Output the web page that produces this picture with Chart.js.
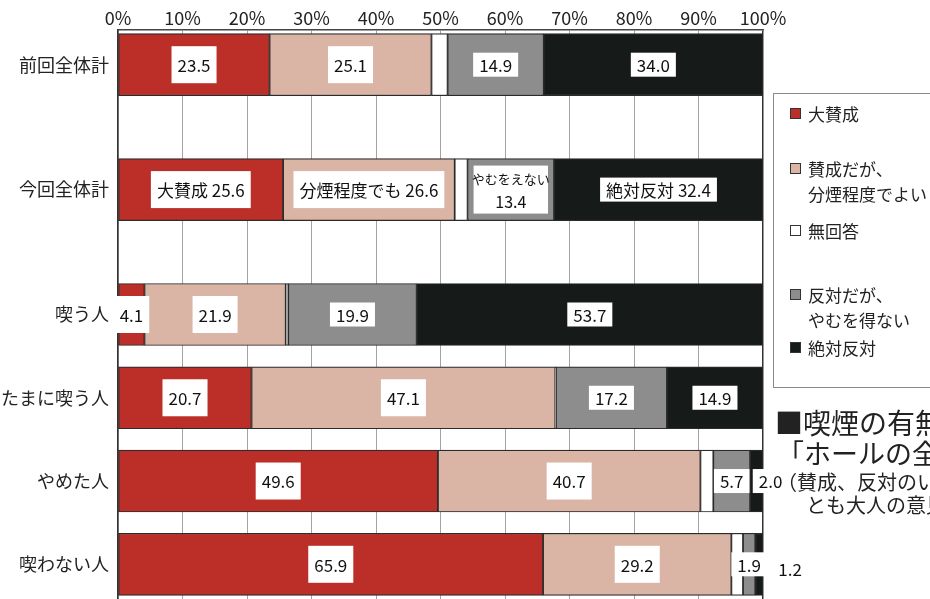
<!DOCTYPE html>
<html>
<head>
<meta charset="utf-8">
<script src="https://cdn.jsdelivr.net/npm/chart.js@4/dist/chart.umd.min.js"></script>
<style>
html,body{margin:0;padding:0;background:#fff;}
#wrap{position:relative;width:930px;height:599px;overflow:hidden;font-family:"Noto Sans CJK JP","Noto Sans",sans-serif;color:#222;background:#fff;}
#c{position:absolute;left:0;top:0;}
#legend{position:absolute;left:773px;top:93px;width:200px;height:295px;border:1px solid #8a8a8a;box-sizing:border-box;}
.sw{position:absolute;left:16px;width:11px;height:11px;border:1px solid #333;box-sizing:border-box;}
.lt{position:absolute;left:34px;font-size:17px;line-height:25px;white-space:pre;color:#222;}
.tt{position:absolute;white-space:nowrap;color:#222;}
</style>
</head>
<body>
<div id="wrap">
<canvas id="c" width="930" height="599"></canvas>
<div id="legend"></div>
<div class="tt" style="left:775px;top:404px;font-size:28px;line-height:36px;">■喫煙の有無別</div>
<div class="tt" style="left:777px;top:435px;font-size:27px;line-height:36px;">「ホールの全面禁煙」</div>
<div class="tt" style="left:777px;top:469px;font-size:20px;line-height:26px;">（賛成、反対のいずれ</div>
<div class="tt" style="left:806px;top:492px;font-size:20px;line-height:26px;">とも大人の意見）</div>
</div>
<script>
// ---- data ----
const categories = ['前回全体計','今回全体計','喫う人','たまに喫う人','やめた人','喫わない人'];
const seriesNames = ['大賛成','賛成だが、\n分煙程度でよい','無回答','反対だが、\nやむを得ない','絶対反対'];
const strongAgree   = [23.5, 25.6,  4.1, 20.7, 49.6, 65.9];
const agreeSeparate = [25.1, 26.6, 21.9, 47.1, 40.7, 29.2];
const noAnswer      = [ 2.5,  2.0,  0.4,  0.1,  2.0,  1.8];
const reluctant     = [14.9, 13.4, 19.9, 17.2,  5.7,  1.9];
const strongOppose  = [34.0, 32.4, 53.7, 14.9,  2.0,  1.2];
const xTickValues   = [0,10,20,30,40,50,60,70,80,90,100];
const labelPrefix = {'1:0':'大賛成 ','1:1':'分煙程度でも ','1:4':'絶対反対 '};
const twoLineLabel = {'1:3':'やむをえない'};

// ---- layout / style ----
const seriesColors = ['#bb2f28','#dab4a4','#ffffff','#8d8d8d','#161a18'];
const slotCount = 41;
const rowSlots = [2, 11, 20, 26, 32, 38];
const legendCenters = [20, 75, 137, 201, 254];
const labelTweaks = {'4:4':{dx:14}, '5:4':{dx:31, dy:4}};

const seriesValues = [strongAgree, agreeSeparate, noAnswer, reluctant, strongOppose];
const slotLabels = new Array(slotCount).fill('');
rowSlots.forEach((s,i)=>{ slotLabels[s] = categories[i]; });
function toSlots(arr){ const d = new Array(slotCount).fill(null); rowSlots.forEach((s,i)=>{ d[s]=arr[i]; }); return d; }

// legend (HTML)
const lg = document.getElementById('legend');
seriesNames.forEach((n,i)=>{
  const sw = document.createElement('div'); sw.className='sw';
  sw.style.background = seriesColors[i]; sw.style.top = (legendCenters[i]-6)+'px';
  lg.appendChild(sw);
  const t = document.createElement('div'); t.className='lt'; t.textContent = n;
  t.style.top = (legendCenters[i]-13)+'px';
  lg.appendChild(t);
});

const FONT = '"Noto Sans CJK JP","Noto Sans",sans-serif';
const labelPlugin = {
  id:'segLabels',
  afterDatasetsDraw(chart){
    const ctx = chart.ctx;
    ctx.save();
    chart.data.datasets.forEach((ds,di)=>{
      if (di===2) return;
      const meta = chart.getDatasetMeta(di);
      meta.data.forEach((el,si)=>{
        const v = ds.data[si]; if (v==null) return;
        const row = rowSlots.indexOf(si);
        const key = row+':'+di;
        const tw = labelTweaks[key]||{};
        const cx = (el.x+el.base)/2 + (tw.dx||0);
        const cy = el.y + (tw.dy||0);
        const valText = v.toFixed(1);
        ctx.textAlign='center'; ctx.textBaseline='middle';
        if (twoLineLabel[key]) {
          const x0 = Math.min(el.x,el.base)+1, x1 = Math.max(el.x,el.base)-1;
          const y0 = el.y-29, y1 = el.y+29;
          ctx.fillStyle = seriesColors[di]; ctx.fillRect(x0,y0,x1-x0,y1-y0);
          ctx.fillStyle = '#fff'; ctx.fillRect(x0+5,y0+5,x1-x0-10,y1-y0-10);
          ctx.fillStyle = '#111';
          ctx.font = '13px '+FONT; ctx.fillText(twoLineLabel[key], cx, el.y-11);
          ctx.font = '16px '+FONT; ctx.fillText(valText, cx, el.y+12);
          return;
        }
        const text = (labelPrefix[key]||'') + valText;
        ctx.font = '17px '+FONT;
        const w = ctx.measureText(text).width + 12;
        const h = (di<=1) ? 37 : 24;
        ctx.fillStyle = '#fff';
        ctx.fillRect(cx-w/2, cy-h/2, w, h);
        ctx.fillStyle = '#111';
        ctx.fillText(text, cx, cy+1);
      });
    });
    ctx.restore();
  }
};

new Chart(document.getElementById('c'), {
  type:'bar',
  data:{
    labels: slotLabels,
    datasets: seriesValues.map((vals,i)=>({
      label: seriesNames[i].replace('\n',''),
      data: toSlots(vals),
      backgroundColor: seriesColors[i],
      borderColor: '#2b2b2b',
      borderWidth: 1.2,
      borderSkipped: false,
      barThickness: 62
    }))
  },
  options:{
    responsive:false,
    animation:false,
    indexAxis:'y',
    layout:{autoPadding:false, padding:{left:0,right:167,top:0,bottom:0}},
    plugins:{legend:{display:false},tooltip:{enabled:false}},
    scales:{
      x:{
        position:'top', stacked:true, min:0, max:100,
        afterBuildTicks(s){ s.ticks = xTickValues.map(v=>({value:v})); },
        afterFit(s){ s.height = 30; s.paddingLeft = 0; s.paddingRight = 0; },
        ticks:{ callback:v=>v+'%', color:'#222', font:{family:FONT,size:18}, padding:1, maxRotation:0, autoSkip:false },
        grid:{ color:c=> (c.tick && c.tick.value===100) ? '#333' : '#a3a3a3', lineWidth:c=> (c.tick && c.tick.value===100) ? 1.5 : 1, drawTicks:false },
        border:{ display:true, color:'#444', width:1.5 }
      },
      y:{
        stacked:true,
        afterFit(s){ s.width = 118; s.paddingTop = 0; s.paddingBottom = 0; },
        ticks:{ color:'#222', font:{family:FONT,size:18}, padding:9, autoSkip:false },
        grid:{ display:false, drawTicks:false },
        border:{ display:true, color:'#333', width:1.5 }
      }
    }
  },
  plugins:[labelPlugin]
});
</script>
</body>
</html>
